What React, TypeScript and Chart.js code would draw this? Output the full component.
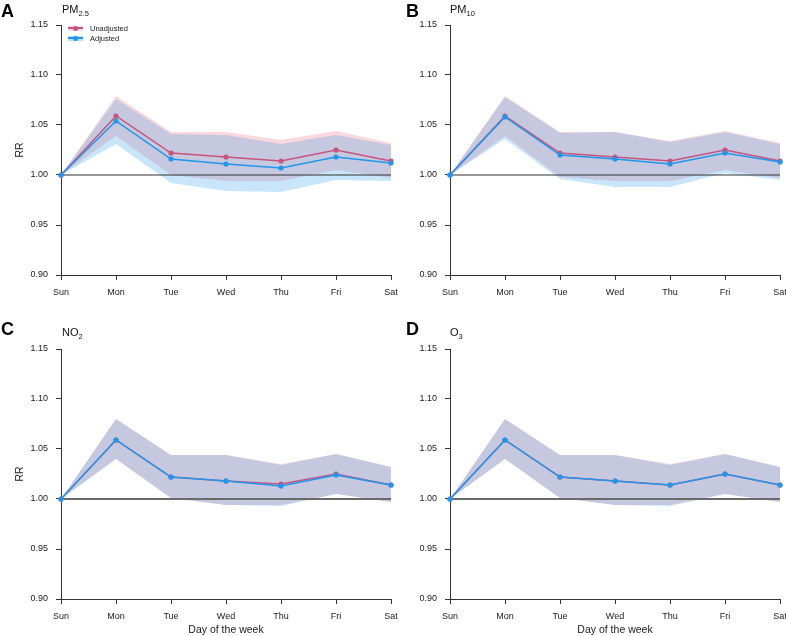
import React, { useEffect, useRef } from "react";
import { Chart, registerables } from "chart.js";

Chart.register(...registerables);

// ---- Data ----
const days = ["Sun", "Mon", "Tue", "Wed", "Thu", "Fri", "Sat"];
const yTicks = [0.9, 0.95, 1.0, 1.05, 1.1, 1.15];
const refLine = [1, 1, 1, 1, 1, 1, 1];

// A: PM2.5
const pm25Unadj = [1, 1.059, 1.022, 1.018, 1.014, 1.025, 1.014];
const pm25UnadjLo = [1, 1.039, 1.0, 0.994, 0.994, 1.005, 0.997];
const pm25UnadjHi = [1, 1.079, 1.043, 1.043, 1.035, 1.044, 1.032];
const pm25Adj = [1, 1.054, 1.016, 1.011, 1.007, 1.018, 1.012];
const pm25AdjLo = [1, 1.031, 0.992, 0.984, 0.983, 0.995, 0.994];
const pm25AdjHi = [1, 1.076, 1.041, 1.04, 1.031, 1.04, 1.03];

// B: PM10
const pm10Unadj = [1, 1.059, 1.022, 1.018, 1.014, 1.025, 1.014];
const pm10UnadjLo = [1, 1.039, 0.998, 0.994, 0.994, 1.005, 0.997];
const pm10UnadjHi = [1, 1.079, 1.043, 1.043, 1.034, 1.044, 1.032];
const pm10Adj = [1, 1.058, 1.02, 1.016, 1.011, 1.022, 1.013];
const pm10AdjLo = [1, 1.036, 0.996, 0.988, 0.988, 1.002, 0.995];
const pm10AdjHi = [1, 1.078, 1.042, 1.043, 1.033, 1.043, 1.031];

// C: NO2
const no2Unadj = [1, 1.059, 1.022, 1.018, 1.015, 1.025, 1.014];
const no2UnadjLo = [1, 1.04, 1.001, 0.994, 0.994, 1.005, 0.997];
const no2UnadjHi = [1, 1.08, 1.044, 1.044, 1.035, 1.045, 1.032];
const no2Adj = [1, 1.059, 1.022, 1.018, 1.013, 1.024, 1.014];
const no2AdjLo = [1, 1.04, 1.001, 0.994, 0.993, 1.005, 0.997];
const no2AdjHi = [1, 1.08, 1.044, 1.044, 1.034, 1.045, 1.032];

// D: O3
const o3Unadj = [1, 1.059, 1.022, 1.018, 1.014, 1.025, 1.014];
const o3UnadjLo = [1, 1.04, 1.001, 0.994, 0.994, 1.005, 0.997];
const o3UnadjHi = [1, 1.08, 1.044, 1.044, 1.035, 1.045, 1.032];
const o3Adj = [1, 1.059, 1.022, 1.018, 1.014, 1.025, 1.014];
const o3AdjLo = [1, 1.04, 1.001, 0.994, 0.993, 1.005, 0.997];
const o3AdjHi = [1, 1.08, 1.044, 1.044, 1.034, 1.045, 1.032];

// ---- Styles ----
const FONT = "'Liberation Sans', Arial, Helvetica, sans-serif";
const RED = "#c4557c";
const BLUE = "#2196ea";
const RED_BAND = "rgba(240,110,130,0.27)";
const BLUE_BAND = "rgba(40,150,230,0.25)";
const AXIS = "#333333";
const TEXT = "#1a1a1a";

type PanelProps = {
  left: number;
  top: number;
  unadj: number[];
  unadjLo: number[];
  unadjHi: number[];
  adj: number[];
  adjLo: number[];
  adjHi: number[];
  showY: boolean;
  showX: boolean;
  refColor: string;
  refWidth: number;
};

const CW = 403;
const CH = 312;

function Panel(p: PanelProps) {
  const ref = useRef<HTMLCanvasElement | null>(null);
  useEffect(() => {
    if (!ref.current) return;
    const chart = new Chart(ref.current, {
      type: "line",
      data: {
        labels: days,
        datasets: [
          { data: p.unadjHi, fill: 1, backgroundColor: RED_BAND, borderColor: "transparent", borderWidth: 0, pointRadius: 0, order: 4 },
          { data: p.unadjLo, fill: false, borderColor: "transparent", borderWidth: 0, pointRadius: 0, order: 4 },
          { data: p.adjHi, fill: 3, backgroundColor: BLUE_BAND, borderColor: "transparent", borderWidth: 0, pointRadius: 0, order: 3 },
          { data: p.adjLo, fill: false, borderColor: "transparent", borderWidth: 0, pointRadius: 0, order: 3 },
          { data: refLine, fill: false, borderColor: p.refColor, borderWidth: p.refWidth, pointRadius: 0, order: 2 },
          { data: p.unadj, fill: false, borderColor: RED, backgroundColor: RED, borderWidth: 1.5, pointRadius: 2.6, pointBorderWidth: 0, order: 1 },
          { data: p.adj, fill: false, borderColor: BLUE, backgroundColor: BLUE, borderWidth: 1.5, pointRadius: 2.6, pointBorderWidth: 0, order: 0 },
        ] as any,
      },
      options: {
        responsive: false,
        animation: false,
        devicePixelRatio: 1,
        layout: { padding: { top: 25, right: 12, bottom: 0, left: 0 } },
        plugins: { legend: { display: false }, tooltip: { enabled: false } },
        elements: { line: { tension: 0 } },
        scales: {
          x: {
            type: "category",
            offset: false,
            grid: { display: true, drawOnChartArea: false, drawTicks: true, tickLength: 5, color: AXIS, lineWidth: 1 },
            border: { display: true, color: AXIS, width: 1 },
            ticks: { color: TEXT, font: { family: FONT, size: 9 }, padding: 7, maxRotation: 0, autoSkip: false },
            title: { display: p.showX, text: "Day of the week", color: TEXT, font: { family: FONT, size: 10.5 }, padding: { top: 0, bottom: 0 } },
            afterFit: (s: any) => {
              s.height = 37;
              s.paddingLeft = 0;
              s.paddingRight = 0;
            },
          },
          y: {
            type: "linear",
            min: 0.9,
            max: 1.15,
            grid: { display: true, drawOnChartArea: false, drawTicks: true, tickLength: 5, color: AXIS, lineWidth: 1 },
            border: { display: true, color: AXIS, width: 1 },
            ticks: { color: TEXT, font: { family: FONT, size: 9 }, padding: 8, callback: (v: any) => Number(v).toFixed(2) },
            afterBuildTicks: (s: any) => { s.ticks = yTicks.map((v) => ({ value: v })); },
            title: { display: p.showY, text: "RR", color: TEXT, font: { family: FONT, size: 10.5 }, padding: { top: 14, bottom: 0 } },
            afterFit: (s: any) => {
              s.width = 61;
              s.paddingTop = 0;
              s.paddingBottom = 0;
            },
          },
        },
      } as any,
    });
    return () => chart.destroy();
  }, []);
  return (
    <canvas
      ref={ref}
      width={CW}
      height={CH}
      style={{ position: "absolute", left: p.left, top: p.top, width: CW, height: CH }}
    />
  );
}

function Letter({ x, y, t }: { x: number; y: number; t: string }) {
  return (
    <div style={{ position: "absolute", left: x, top: y, fontFamily: FONT, fontWeight: 700, fontSize: 18, lineHeight: "18px", color: "#000", whiteSpace: "nowrap" }}>
      {t}
    </div>
  );
}

function Title({ x, y, main, sub }: { x: number; y: number; main: string; sub: string }) {
  return (
    <div style={{ position: "absolute", left: x, top: y, fontFamily: FONT, fontSize: 11, lineHeight: "11px", color: "#111", whiteSpace: "nowrap" }}>
      {main}
      <span style={{ fontSize: 7.5, position: "relative", top: 2.5 }}>{sub}</span>
    </div>
  );
}

function LegendItem({ y, color, band, label }: { y: number; color: string; band: string; label: string }) {
  return (
    <>
      <div style={{ position: "absolute", left: 68, top: y - 2.5, width: 15, height: 5, background: band }} />
      <div style={{ position: "absolute", left: 68, top: y - 0.75, width: 15, height: 1.5, background: color }} />
      <div style={{ position: "absolute", left: 73, top: y - 2.5, width: 5, height: 5, borderRadius: "50%", background: color }} />
      <div style={{ position: "absolute", left: 90, top: y - 4.5, fontFamily: FONT, fontSize: 7.5, lineHeight: "9px", color: TEXT, whiteSpace: "nowrap" }}>
        {label}
      </div>
    </>
  );
}

export default function App() {
  return (
    <div style={{ position: "fixed", left: 0, top: 0, width: 786, height: 636, overflow: "hidden", background: "#fff" }}>
      <Panel left={0} top={0} unadj={pm25Unadj} unadjLo={pm25UnadjLo} unadjHi={pm25UnadjHi} adj={pm25Adj} adjLo={pm25AdjLo} adjHi={pm25AdjHi} showY={true} showX={false} refColor="#333333" refWidth={1.2} />
      <Panel left={389} top={0} unadj={pm10Unadj} unadjLo={pm10UnadjLo} unadjHi={pm10UnadjHi} adj={pm10Adj} adjLo={pm10AdjLo} adjHi={pm10AdjHi} showY={false} showX={false} refColor="#333333" refWidth={1.2} />
      <Panel left={0} top={324} unadj={no2Unadj} unadjLo={no2UnadjLo} unadjHi={no2UnadjHi} adj={no2Adj} adjLo={no2AdjLo} adjHi={no2AdjHi} showY={true} showX={true} refColor="#6a6a6a" refWidth={2} />
      <Panel left={389} top={324} unadj={o3Unadj} unadjLo={o3UnadjLo} unadjHi={o3UnadjHi} adj={o3Adj} adjLo={o3AdjLo} adjHi={o3AdjHi} showY={false} showX={true} refColor="#6a6a6a" refWidth={2} />

      <Letter x={1} y={2} t="A" />
      <Letter x={406} y={2} t="B" />
      <Letter x={1} y={320} t="C" />
      <Letter x={406} y={320} t="D" />

      <Title x={62} y={4} main="PM" sub="2.5" />
      <Title x={450} y={4} main="PM" sub="10" />
      <Title x={62} y={327} main="NO" sub="2" />
      <Title x={450} y={327} main="O" sub="3" />

      <LegendItem y={28} color={RED} band="rgba(240,110,130,0.25)" label="Unadjusted" />
      <LegendItem y={38} color={BLUE} band="rgba(40,150,230,0.3)" label="Adjusted" />
    </div>
  );
}
